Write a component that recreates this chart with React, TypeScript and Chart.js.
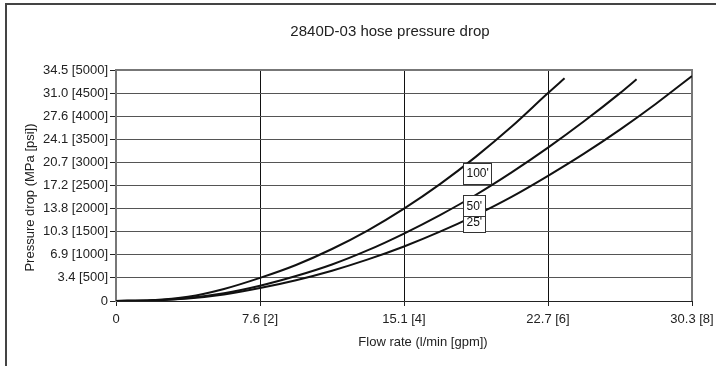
import { useEffect, useRef } from "react";
import { Chart, registerables } from "chart.js";

Chart.register(...registerables);

// ---- data ----
const TITLE = "2840D-03 hose pressure drop";
const X_TITLE = "Flow rate (l/min [gpm])";
const Y_TITLE = "Pressure drop (MPa [psi])";

// x in gpm, y in psi
const X_TICKS = [0, 2, 4, 6, 8];
const X_TICK_LABELS = ["0", "7.6 [2]", "15.1 [4]", "22.7 [6]", "30.3 [8]"];
const Y_TICK_LABELS = [
  "0", "3.4 [500]", "6.9 [1000]", "10.3 [1500]", "13.8 [2000]", "17.2 [2500]",
  "20.7 [3000]", "24.1 [3500]", "27.6 [4000]", "31.0 [4500]", "34.5 [5000]",
];

const GPM_100 = [0, 0.5, 1, 1.5, 2, 2.5, 3, 3.5, 4, 4.5, 5, 5.5, 6, 6.23];
const PSI_100 = [0, 15, 90, 260, 500, 780, 1125, 1530, 2000, 2530, 3125, 3780, 4500, 4820];

const GPM_50 = [0, 0.5, 1, 1.5, 2, 2.5, 3, 3.5, 4, 4.5, 5, 5.5, 6, 6.5, 7, 7.23];
const PSI_50 = [0, 14, 66, 168, 330, 540, 790, 1100, 1460, 1860, 2300, 2790, 3320, 3890, 4500, 4800];

const GPM_25 = [0, 0.5, 1, 1.5, 2, 2.5, 3, 3.5, 4, 4.5, 5, 5.5, 6, 6.5, 7, 7.5, 8];
const PSI_25 = [0, 12, 56, 143, 280, 450, 655, 900, 1180, 1500, 1860, 2260, 2710, 3190, 3710, 4270, 4870];

const SERIES_NAMES = ["100'", "50'", "25'"];
// label anchors (gpm, psi) for the boxed curve labels
const LABEL_GPM = [4.82, 4.82, 4.82];
const LABEL_PSI = [2770, 2057, 1710];

const FONT = '"Liberation Sans", Arial, Helvetica, sans-serif';

const pts = (xs: number[], ys: number[]) => xs.map((x, i) => ({ x, y: ys[i] }));

const annotPlugin = {
  id: "annot",
  beforeDraw(chart: any) {
    const ctx = chart.ctx;
    ctx.save();
    ctx.fillStyle = "#fff";
    ctx.fillRect(0, 0, chart.width, chart.height);
    ctx.strokeStyle = "#444";
    ctx.lineWidth = 2;
    ctx.beginPath();
    ctx.moveTo(6, chart.height);
    ctx.lineTo(6, 4);
    ctx.lineTo(chart.width, 4);
    ctx.stroke();
    ctx.restore();
  },
  beforeDatasetsDraw(chart: any) {
    const { ctx, chartArea: a } = chart;
    ctx.save();
    ctx.strokeStyle = "#777";
    ctx.lineWidth = 2;
    ctx.beginPath();
    ctx.moveTo(a.left, a.top);
    ctx.lineTo(a.right, a.top);
    ctx.lineTo(a.right, a.bottom);
    ctx.stroke();
    ctx.restore();
  },
  afterDatasetsDraw(chart: any) {
    const { ctx, scales } = chart;
    ctx.save();
    ctx.font = `12px ${FONT}`;
    ctx.textBaseline = "middle";
    ctx.textAlign = "left";
    const order = [2, 1, 0];
    for (const i of order) {
      const x = Math.round(scales.x.getPixelForValue(LABEL_GPM[i])) + 0.5;
      const cy = scales.y.getPixelForValue(LABEL_PSI[i]);
      const w = Math.round(ctx.measureText(SERIES_NAMES[i]).width + 6);
      const h = 21;
      const top = Math.round(cy - h / 2) + 0.5;
      ctx.fillStyle = "#fff";
      ctx.fillRect(x, top, w, h);
      ctx.strokeStyle = "#333";
      ctx.lineWidth = 1;
      ctx.strokeRect(x, top, w, h);
      ctx.fillStyle = "#111";
      ctx.fillText(SERIES_NAMES[i], x + 3, cy + 1);
    }
    ctx.restore();
  },
  afterDraw(chart: any) {
    const { ctx, chartArea: a } = chart;
    const cx = (a.left + a.right) / 2;
    const cy = (a.top + a.bottom) / 2;
    ctx.save();
    ctx.fillStyle = "#222";
    ctx.textAlign = "center";
    ctx.textBaseline = "middle";
    ctx.font = `15px ${FONT}`;
    ctx.fillText(TITLE, cx - 14, 32);
    ctx.font = `13px ${FONT}`;
    ctx.fillText(X_TITLE, cx + 19, 342);
    ctx.translate(30, cy + 12);
    ctx.rotate(-Math.PI / 2);
    ctx.fillText(Y_TITLE, 0, 0);
    ctx.restore();
  },
};

export default function App() {
  const ref = useRef<HTMLCanvasElement | null>(null);

  useEffect(() => {
    document.body.style.margin = "0";
    if (!ref.current) return;
    const lineStyle = {
      borderColor: "#111",
      borderWidth: 2,
      pointRadius: 0,
      fill: false,
      cubicInterpolationMode: "monotone" as const,
    };
    const chart = new Chart(ref.current, {
      type: "line",
      data: {
        datasets: [
          { label: SERIES_NAMES[0], data: pts(GPM_100, PSI_100), ...lineStyle },
          { label: SERIES_NAMES[1], data: pts(GPM_50, PSI_50), ...lineStyle },
          { label: SERIES_NAMES[2], data: pts(GPM_25, PSI_25), ...lineStyle },
        ],
      },
      options: {
        animation: false,
        responsive: false,
        devicePixelRatio: 1,
        layout: { padding: { top: 70, right: 24, left: 0, bottom: 0 } },
        plugins: { legend: { display: false }, title: { display: false }, tooltip: { enabled: false } },
        scales: {
          x: {
            type: "linear",
            min: 0,
            max: 8,
            afterFit: (s: any) => {
              s.height = 65;
              s.paddingLeft = 0;
              s.paddingRight = 0;
            },
            afterBuildTicks: (s: any) => { s.ticks = X_TICKS.map((v) => ({ value: v })); },
            ticks: {
              callback: (v: any) => X_TICK_LABELS[X_TICKS.indexOf(Number(v))] ?? "",
              font: { family: FONT, size: 13 },
              color: "#222",
              padding: 6,
              maxRotation: 0,
            },
            grid: { color: "#111", lineWidth: 1, tickColor: "#222", tickLength: 5 },
            border: { color: "#222", width: 1 },
          },
          y: {
            type: "linear",
            min: 0,
            max: 5000,
            afterFit: (s: any) => {
              s.width = 116;
              s.paddingTop = 0;
              s.paddingBottom = 0;
            },
            ticks: {
              stepSize: 500,
              callback: (v: any) => Y_TICK_LABELS[Math.round(Number(v) / 500)] ?? "",
              font: { family: FONT, size: 13 },
              color: "#222",
              padding: 2,
            },
            grid: { color: "#555", lineWidth: 1, tickColor: "#222", tickLength: 6 },
            border: { color: "#777", width: 2 },
          },
        },
      },
      plugins: [annotPlugin],
    });
    return () => chart.destroy();
  }, []);

  return (
    <div style={{ width: 716, height: 366 }}>
      <canvas ref={ref} width={716} height={366} style={{ display: "block" }} />
    </div>
  );
}
